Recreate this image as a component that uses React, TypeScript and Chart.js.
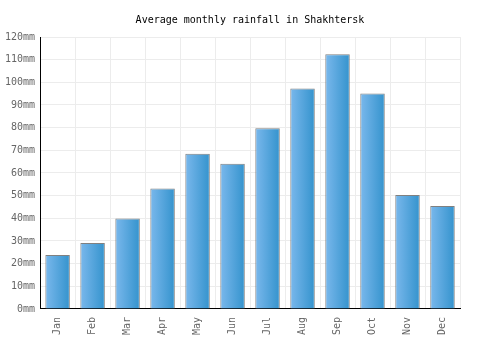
import React, { useEffect, useRef } from "react";
import { Chart, registerables } from "chart.js";

Chart.register(...registerables);

const months = ["Jan", "Feb", "Mar", "Apr", "May", "Jun", "Jul", "Aug", "Sep", "Oct", "Nov", "Dec"];
const rainfall = [23.8, 29.1, 39.9, 53.1, 68.5, 64.1, 79.7, 97.3, 112.4, 95.1, 50.3, 45.4];
const titleText = "Average monthly rainfall in Shakhtersk";
const yMax = 120;
const yStep = 10;

const FONT = "'DejaVu Sans Mono', 'Liberation Mono', monospace";

export default function App() {
  const ref = useRef<HTMLCanvasElement | null>(null);

  useEffect(() => {
    document.body.style.margin = "0";
    const canvas = ref.current;
    if (!canvas) return;
    const chart = new Chart(canvas, {
      type: "bar",
      data: {
        labels: months,
        datasets: [
          {
            data: rainfall,
            borderColor: "#808080",
            borderWidth: 1,
            barPercentage: 0.7,
            categoryPercentage: 1,
            backgroundColor: (ctx: any) => {
              const c = ctx.chart;
              const xs = c.scales && c.scales.x;
              if (!c.chartArea || !xs || ctx.dataIndex === undefined) return "#5aa8e0";
              const cx = xs.getPixelForValue(ctx.dataIndex);
              const w = (c.chartArea.right - c.chartArea.left) / months.length * 0.7;
              const g = c.ctx.createLinearGradient(cx - w / 2, 0, cx + w / 2, 0);
              g.addColorStop(0, "#7ab8ec");
              g.addColorStop(1, "#3493cd");
              return g;
            },
          },
        ],
      },
      options: {
        animation: false,
        responsive: false,
        maintainAspectRatio: false,
        layout: { padding: { left: 0, right: 0, bottom: 7, top: 0 } },
        plugins: {
          legend: { display: false },
          tooltip: { enabled: false },
          title: {
            display: true,
            text: titleText,
            color: "#000",
            font: { family: FONT, size: 10, weight: "normal" },
            padding: { top: 14, bottom: 11 },
          },
        },
        scales: {
          x: {
            grid: { color: "#ececec", drawTicks: false, offset: true },
            border: { color: "#000", width: 1 },
            ticks: {
              color: "#666",
              font: { family: FONT, size: 10 },
              minRotation: 90,
              maxRotation: 90,
              padding: 8,
            },
          },
          y: {
            min: 0,
            max: yMax,
            grid: { color: "#ececec", drawTicks: false },
            border: { color: "#000", width: 1 },
            ticks: {
              stepSize: yStep,
              color: "#666",
              font: { family: FONT, size: 10 },
              padding: 5,
              callback: (v: any) => v + "mm",
            },
          },
          yR: {
            position: "right",
            min: 0,
            max: yMax,
            grid: { display: false, drawTicks: false },
            border: { display: false },
            ticks: { display: false },
            afterFit: (s: any) => {
              s.width = 40;
            },
          },
        },
      },
    });
    return () => chart.destroy();
  }, []);

  return (
    <div style={{ width: 500, height: 350 }}>
      <canvas ref={ref} width={500} height={350} style={{ width: 500, height: 350 }} />
    </div>
  );
}
